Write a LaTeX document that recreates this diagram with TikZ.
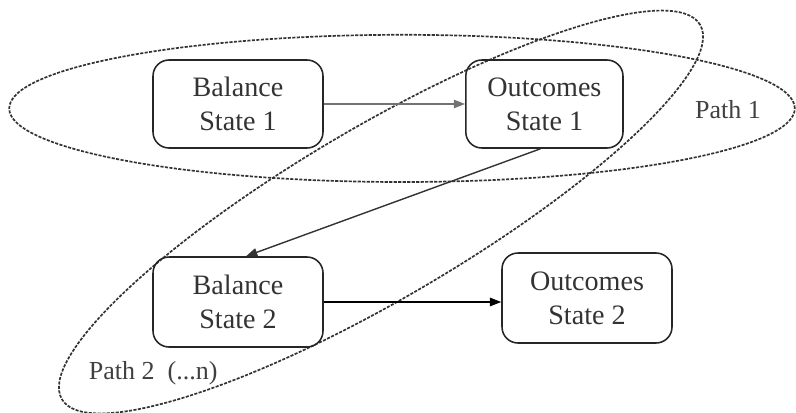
\documentclass[tikz,border=0pt]{standalone}
\usepackage{fontspec}
\setmainfont{Liberation Serif}
\usetikzlibrary{arrows.meta}
\begin{document}
\begin{tikzpicture}[
    statebox/.style={draw=black!85, line width=1.1pt, rounded corners=0.4cm,
        minimum width=4.25cm, minimum height=2.2cm, align=center,
        text=black!80, font=\fontsize{20}{24}\selectfont},
    pathline/.style={black!80, line width=1.2pt, dash pattern=on 2.2pt off 1pt},
    pathlabel/.style={text=black!75, font=\fontsize{18.5}{22}\selectfont},
    link/.style={line width=1pt, -{Triangle[length=8pt,width=6pt]}}]
    \useasboundingbox (0,0) rectangle (19.9,10.3);
    \coordinate (p1) at (10.05, 7.59);
    \coordinate (p2) at (9.525, 5.0);
    \draw[pathline] (p1) ellipse [x radius=9.82cm, y radius=1.84cm];
    \draw[pathline, rotate around={30.4:(p2)}] (p2) ellipse [x radius=9.25cm, y radius=2.15cm];
    \node[statebox] (b1) at (5.95, 7.7) {Balance\\State 1};
    \node[statebox, minimum width=3.93cm] (o1) at (13.61, 7.7) {Outcomes\\State 1};
    \node[statebox, minimum height=2.25cm] (b2) at (5.95, 2.75) {Balance\\State 2};
    \node[statebox, minimum height=2.25cm] (o2) at (14.675, 2.85) {Outcomes\\State 2};
    \draw[link, black!55] (b1) -- (o1);
    \draw[link, black!80] (o1.265) -- (b2.80);
    \draw[link] (b2.east) -- (o2.west |- b2.east);
    \node[pathlabel] (l1) at (18.2, 7.55) {Path 1};
    \node[pathlabel] (l2) at (3.83, 0.97) {Path 2\enspace(...n)};
\end{tikzpicture}
\end{document}
